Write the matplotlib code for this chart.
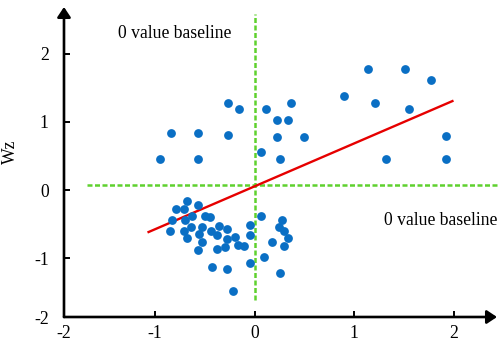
import matplotlib
matplotlib.use("Agg")
import matplotlib.pyplot as plt
import numpy as np

# Puntos (eje horizontal sin nombre, eje vertical Wz)
x_puntos = [
    -0.676, -0.792, -0.712, -0.566, -0.829, -0.696, -0.626, -0.495, -0.448,
    -0.846, -0.712, -0.642, -0.676, -0.529, -0.562, -0.441, -0.358, -0.275,
    -0.378, -0.529, -0.566, -0.381, -0.275, -0.301, -0.195, -0.171, -0.105,
    -0.045, -0.045, -0.048, -0.431, -0.281, -0.215,
    0.063, 0.276, 0.243, 0.296, 0.336, 0.170, 0.293, 0.090, 0.253,
    -0.271, -0.158, 0.110, 0.360, 0.220, 0.336, -0.839, -0.572, -0.271,
    0.220, 0.496, -0.949, -0.572, 0.066, 0.253,
    1.132, 1.509, 1.773, 0.901, 1.205, 1.546, 1.919, 1.318, 1.919,
]
wz_puntos = [
    -0.154, -0.271, -0.271, -0.213, -0.432, -0.437, -0.378, -0.378, -0.393,
    -0.598, -0.598, -0.544, -0.705, -0.544, -0.646, -0.598, -0.525, -0.564,
    -0.652, -0.764, -0.872, -0.866, -0.711, -0.837, -0.686, -0.803, -0.818,
    -0.506, -0.652, -1.071, -1.126, -1.155, -1.473,
    -0.374, -0.432, -0.539, -0.594, -0.705, -0.759, -0.818, -0.979, -1.209,
    1.282, 1.190, 1.190, 1.282, 1.033, 1.033, 0.838, 0.838, 0.809,
    0.784, 0.784, 0.457, 0.457, 0.555, 0.457,
    1.781, 1.781, 1.620, 1.385, 1.282, 1.194, 0.790, 0.457, 0.457,
]

# Recta de ajuste (pendiente, ordenada y tramo dibujado)
pendiente = 0.630
ordenada = 0.057
tramo_ajuste = [-1.063, 1.983]

# Lineas de referencia "0 value baseline"
base_horizontal = 0.072
tramo_horizontal = [-1.68, 2.44]
base_vertical = 0.0
tramo_vertical = [-1.61, 2.58]

x_ticks = [-1, 0, 1, 2]
y_ticks = [-1, 0, 1, 2]
etiqueta_cero = "0 value baseline"


def crear_grafica():
    plt.rcParams["font.family"] = ["Liberation Serif", "DejaVu Serif"]
    fig = plt.figure(figsize=(4.98, 3.43), dpi=100)
    ax = fig.add_axes([0.1285, 0.0758, 0.8695, 0.9038])

    x_min, x_max = -1.911, 2.43
    y_min, y_max = -1.858, 2.685
    ax.set_xlim(x_min, x_max)
    ax.set_ylim(y_min, y_max)

    # Lineas discontinuas verdes
    verde = "#5fd12e"
    ax.plot(tramo_horizontal, [base_horizontal, base_horizontal], color=verde,
            lw=1.8, linestyle=(0, (2, 1)), clip_on=False, zorder=2)
    ax.plot([base_vertical, base_vertical], tramo_vertical, color=verde,
            lw=1.8, linestyle=(0, (2, 1)), zorder=2)

    # Recta roja de tendencia
    xs = np.array(tramo_ajuste)
    ax.plot(xs, pendiente * xs + ordenada, color="#e60000", lw=1.7, zorder=3)

    # Puntos azules
    ax.scatter(x_puntos, wz_puntos, s=40, color="#0a6fc4", linewidths=0,
               zorder=4)

    # Textos de las lineas base
    ax.text(-1.37, 2.29, etiqueta_cero, fontsize=12.7, ha="left", va="center")
    ax.text(1.295, -0.437, etiqueta_cero, fontsize=12.7, ha="left",
            va="center", clip_on=False)

    # Ejes con flecha en lugar de marco
    for lado in ["top", "right", "left", "bottom"]:
        ax.spines[lado].set_visible(False)
    flecha = dict(arrowstyle="-|>,head_length=0.6,head_width=0.4",
                  color="black", lw=1.9, shrinkA=0, shrinkB=0,
                  mutation_scale=10)
    ax.annotate("", xy=(1, 0), xytext=(0, 0), xycoords="axes fraction",
                arrowprops=flecha)
    ax.annotate("", xy=(0, 1), xytext=(0, 0), xycoords="axes fraction",
                arrowprops=flecha)

    # Marcas: el "-2" queda en la esquina donde se cruzan los ejes
    ax.set_xticks([x_min] + x_ticks)
    ax.set_xticklabels(["-2"] + [str(v) for v in x_ticks])
    ax.set_yticks([y_min] + y_ticks)
    ax.set_yticklabels(["-2"] + [str(v) for v in y_ticks])
    ax.tick_params(axis="both", direction="in", length=4.5, width=1.4,
                   labelsize=12.7, color="black")
    ax.tick_params(axis="x", pad=6)
    ax.tick_params(axis="y", pad=11)

    ax.set_ylabel("Wz", fontsize=12.7)
    ax.yaxis.set_label_coords(-0.105, 0.532)

    fig.savefig("out.png", dpi=100)


def main():
    crear_grafica()


if __name__ == "__main__":
    main()
